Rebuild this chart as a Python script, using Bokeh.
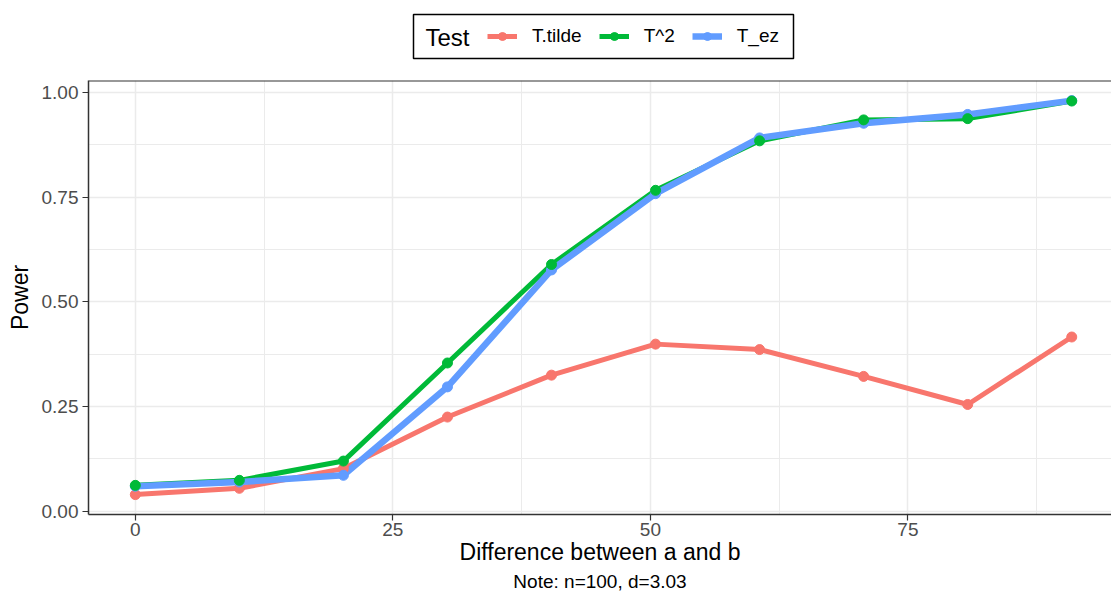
import numpy as np
from bokeh.plotting import figure
from bokeh.layouts import column
from bokeh.models import (Legend, LegendItem, FixedTicker, Span, Title, Range1d)
from bokeh.core.properties import value
from bokeh.embed import file_html
from bokeh.resources import INLINE

# ---- data ----
difference = [0, 10.1, 20.2, 30.3, 40.4, 50.5, 60.6, 70.7, 80.8, 90.9]
power_tilde = [0.040, 0.055, 0.102, 0.225, 0.325, 0.399, 0.386, 0.322, 0.255, 0.416]
power_t2 = [0.062, 0.074, 0.120, 0.354, 0.589, 0.766, 0.884, 0.934, 0.937, 0.979]
power_ez = [0.060, 0.070, 0.086, 0.297, 0.576, 0.758, 0.891, 0.926, 0.947, 0.980]
series_names = ["T.tilde", "T^2", "T_ez"]
series_colors = ["#F8766D", "#00BA38", "#619CFF"]
legend_title = "Test"
x_ticks = [0, 25, 50, 75]
x_minor = [12.5, 37.5, 62.5, 87.5]
y_ticks = [0, 0.25, 0.5, 0.75, 1.0]
y_tick_labels = ["0.00", "0.25", "0.50", "0.75", "1.00"]
y_minor = [0.125, 0.375, 0.625, 0.875]

FONT = "Liberation Sans"
x_lo, x_hi = -4.545, 94.76
y_lo, y_hi = -0.0075, 1.028
widths = [5, 5, 6.5]
FRAME_LEFT = 88

# ---------------- legend strip ----------------
LEG_H = 79
leg = figure(width=1111, height=LEG_H, x_range=Range1d(FRAME_LEFT, 1111),
             y_range=Range1d(LEG_H, 0),
             x_axis_type=None, y_axis_type=None, output_backend="svg",
             toolbar_location=None, min_border=0, min_border_left=FRAME_LEFT)
leg.outline_line_color = None
leg.xgrid.visible = False
leg.ygrid.visible = False
leg.quad(left=[413], right=[793], top=[14], bottom=[58], fill_color="white",
         line_color="black", line_width=1.5)
leg.text(x=[425], y=[37], text=[legend_title], text_baseline="middle", text_align="left",
         text_font=value(FONT), text_font_size="24px", text_color="black")
dummy_items = []
nan = np.array([np.nan])
for name, c, w in zip(series_names, series_colors, widths):
    lr = leg.line(x=nan, y=nan, line_color=c, line_width=w)
    sr = leg.scatter(x=nan, y=nan, size=10, fill_color=c, line_color=c)
    dummy_items.append(LegendItem(label=name, renderers=[lr, sr]))
legend = Legend(items=dummy_items, orientation="horizontal",
                location=(487 - FRAME_LEFT, 32))
legend.label_text_font = FONT
legend.label_text_font_size = "19px"
legend.label_text_color = "black"
legend.border_line_color = None
legend.background_fill_alpha = 0
legend.glyph_width = 30
legend.glyph_height = 20
legend.label_height = 20
legend.label_standoff = 15
legend.spacing = 17
legend.padding = 0
legend.margin = 0
leg.add_layout(legend, "center")

# ---------------- main plot ----------------
p = figure(width=1111, height=596 - LEG_H, x_range=(x_lo, x_hi), y_range=(y_lo, y_hi),
           output_backend="svg", toolbar_location=None,
           min_border_left=FRAME_LEFT, min_border_right=0, min_border_top=1,
           min_border_bottom=82)
p.background_fill_color = "white"
p.border_fill_color = "white"
p.outline_line_color = None

p.xaxis.ticker = FixedTicker(ticks=x_ticks, minor_ticks=x_minor)
p.yaxis.ticker = FixedTicker(ticks=y_ticks, minor_ticks=y_minor)
p.yaxis.major_label_overrides = {t: l for t, l in zip(y_ticks, y_tick_labels)}
for ax in (p.xaxis[0], p.yaxis[0]):
    ax.axis_line_color = "#333333"
    ax.axis_line_width = 1.5
    ax.major_tick_line_color = "#333333"
    ax.major_tick_line_width = 1.2
    ax.major_tick_out = 6
    ax.major_tick_in = 0
    ax.minor_tick_line_color = None
    ax.major_label_text_font = FONT
    ax.major_label_text_font_size = "19px"
    ax.major_label_text_color = "#4D4D4D"
    ax.axis_label_text_font = FONT
    ax.axis_label_text_font_size = "23px"
    ax.axis_label_text_font_style = "normal"
    ax.axis_label_text_color = "black"
p.xaxis.axis_label = "Difference between a and b"
p.yaxis.axis_label = "Power"
p.xaxis.major_label_standoff = 2
p.xaxis.axis_label_standoff = 0
p.yaxis.major_label_standoff = 4
p.yaxis.axis_label_standoff = 6

for g in (p.xgrid[0], p.ygrid[0]):
    g.grid_line_color = "#EBEBEB"
    g.grid_line_width = 1.5
    g.minor_grid_line_color = "#EBEBEB"
    g.minor_grid_line_width = 1

p.add_layout(Span(location=y_hi, dimension="width", line_color="#333333", line_width=2))

ys = [power_tilde, power_t2, power_ez]
for yv, c, w in zip(ys, series_colors, widths):
    p.line(difference, yv, line_color=c, line_width=w)
for i in (0, 2, 1):
    p.scatter(difference, ys[i], size=10, fill_color=series_colors[i],
              line_color=series_colors[i])

p.add_layout(Title(text="Note: n=100, d=3.03", align="center", text_font=FONT,
                   text_font_size="19px", text_font_style="normal",
                   text_color="black", standoff=2, offset=0), "below")

layout = column(leg, p, spacing=0)
open("out.html", "w").write(file_html(layout, INLINE))
